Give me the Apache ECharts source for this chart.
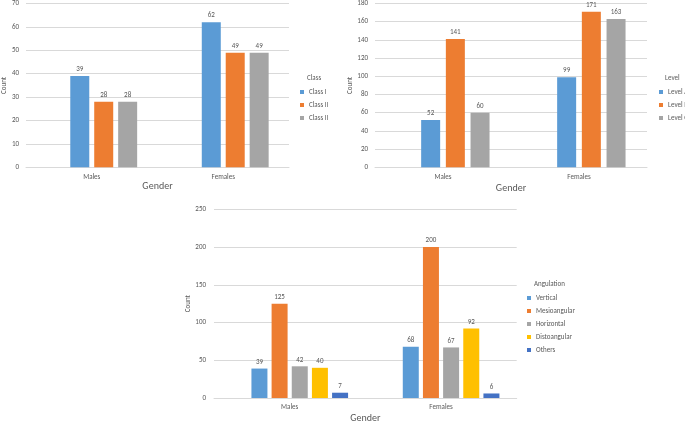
<!DOCTYPE html>
<html>
<head>
<meta charset="utf-8">
<script src="https://cdn.jsdelivr.net/npm/echarts@6/dist/echarts.min.js"></script>
<style>
html,body{margin:0;padding:0;background:#fff;}
#c{width:685px;height:424px;}
</style>
</head>
<body>
<div id="c"></div>
<script>
// ---- data ----
const genders = ['Males', 'Females'];

const classNames = ['Class I', 'Class II', 'Class II\u00a0'];
const classI = [39, 62];
const classII = [28, 49];
const classIII = [28, 49];

const levelNames = ['Level A', 'Level B', 'Level C'];
const levelA = [52, 99];
const levelB = [141, 171];
const levelC = [60, 163];

const angNames = ['Vertical', 'Mesioangular', 'Horizontal', 'Distoangular', 'Others'];
const vertical = [39, 68];
const mesioangular = [125, 200];
const horizontal = [42, 67];
const distoangular = [40, 92];
const others = [7, 6];

const yTicks1 = {min: 0, max: 70, interval: 10};
const yTicks2 = {min: 0, max: 180, interval: 20};
const yTicks3 = {min: 0, max: 250, interval: 50};

// ---- styles ----
const FONT = "Carlito, 'Liberation Sans', Arial, sans-serif";
const TXT = '#595959';
const GRID = '#D9D9D9';
const C = ['#5B9BD5', '#ED7D31', '#A5A5A5', '#FFC000', '#4472C4'];

const chart = echarts.init(document.getElementById('c'), null, {renderer: 'canvas'});

function xAxis(gridIndex, nameGap) {
  return {
    type: 'category', gridIndex, data: genders,
    axisLine: {lineStyle: {color: GRID}},
    axisTick: {show: false},
    axisLabel: {fontSize: 7, color: TXT, fontFamily: FONT, margin: 6},
    name: 'Gender', nameLocation: 'middle', nameGap,
    nameTextStyle: {fontSize: 10, color: TXT, fontFamily: FONT}
  };
}
function yAxis(gridIndex, t, nameGap, margin) {
  return {
    type: 'value', gridIndex, min: t.min, max: t.max, interval: t.interval,
    axisLine: {show: false}, axisTick: {show: false},
    splitLine: {lineStyle: {color: GRID}},
    axisLabel: {fontSize: 7, color: TXT, fontFamily: FONT, margin},
    name: 'Count', nameLocation: 'middle', nameGap, nameRotate: 90,
    nameTextStyle: {fontSize: 7, color: TXT, fontFamily: FONT}
  };
}
function bar(name, data, color, idx, bw, gap) {
  return {
    type: 'bar', name, data, xAxisIndex: idx, yAxisIndex: idx,
    barWidth: bw, barGap: gap,
    itemStyle: {color},
    label: {show: true, position: 'top', distance: 3, fontSize: 7, color: TXT, fontFamily: FONT},
    emphasis: {disabled: true}
  };
}
function blank(name, idx, bw, gap) {
  return {type: 'bar', name, data: ['-', '-'], xAxisIndex: idx, yAxisIndex: idx, barWidth: bw, barGap: gap};
}
function legend(names, left, top) {
  return {
    data: names, orient: 'vertical', left, top, padding: 0,
    icon: 'rect', itemWidth: 4, itemHeight: 4, itemGap: 5,
    textStyle: {fontSize: 7, color: TXT, fontFamily: FONT, lineHeight: 8},
    selectedMode: false
  };
}
function ltitle(text, left, top) {
  return {text, left, top, padding: 0, textStyle: {fontSize: 7, fontWeight: 'normal', color: TXT, fontFamily: FONT}};
}

const option = {
  animation: false,
  title: [ltitle('Class', 307, 75), ltitle('Level', 665, 75), ltitle('Angulation', 534, 281)],
  legend: [legend(classNames, 300, 88), legend(levelNames, 659, 88), legend(angNames, 527, 294)],
  grid: [
    {left: 23, top: 2.3, width: 266, height: 165},
    {left: 375, top: 2, width: 272, height: 165.3},
    {left: 214, top: 209.3, width: 302.7, height: 190}
  ],
  xAxis: [xAxis(0, 11), xAxis(1, 16), xAxis(2, 15)],
  yAxis: [yAxis(0, yTicks1, 16, 7), yAxis(1, yTicks2, 20, 7), yAxis(2, yTicks3, 20, 8)],
  series: [
    blank('_b1', 0, 19, '26%'),
    bar(classNames[0], classI, C[0], 0, 19, '26%'),
    bar(classNames[1], classII, C[1], 0, 19, '26%'),
    bar(classNames[2], classIII, C[2], 0, 19, '26%'),

    blank('_b2', 1, 19, '30%'),
    bar(levelNames[0], levelA, C[0], 1, 19, '30%'),
    bar(levelNames[1], levelB, C[1], 1, 19, '30%'),
    bar(levelNames[2], levelC, C[2], 1, 19, '30%'),

    blank('_b3', 2, 16, '26%'),
    bar(angNames[0], vertical, C[0], 2, 16, '26%'),
    bar(angNames[1], mesioangular, C[1], 2, 16, '26%'),
    bar(angNames[2], horizontal, C[2], 2, 16, '26%'),
    bar(angNames[3], distoangular, C[3], 2, 16, '26%'),
    bar(angNames[4], others, C[4], 2, 16, '26%')
  ]
};
chart.setOption(option);
</script>
</body>
</html>
